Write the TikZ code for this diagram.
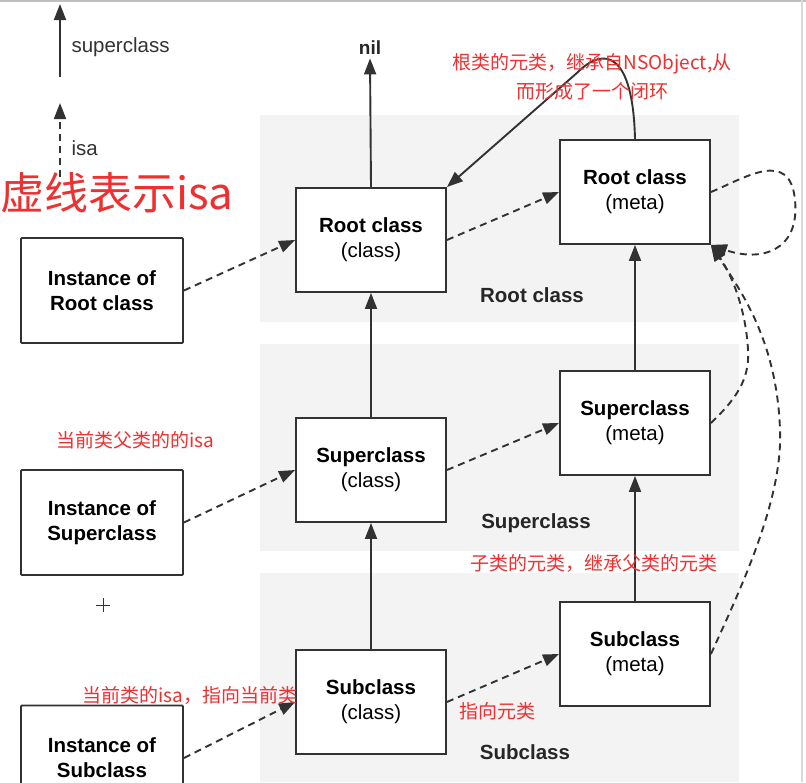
\documentclass[tikz,border=0pt]{standalone}
\usepackage{fontspec}
\setmainfont{Liberation Sans}
\newfontfamily\cjk{Noto Sans CJK SC}
\usetikzlibrary{arrows.meta}
\definecolor{boxline}{RGB}{50,50,50}
\definecolor{bandgray}{RGB}{243,243,243}
\definecolor{anno}{RGB}{238,48,48}
\begin{document}
\begin{tikzpicture}[x=1pt,y=-1pt,
  box/.style={draw=boxline, line width=1.9pt, fill=white, minimum width=150pt, minimum height=104pt, align=center, inner sep=0pt, font=\fontsize{20.5}{25}\selectfont},
  instbox/.style={box, minimum width=162pt, minimum height=105pt, rounded corners=1pt},
  supArrow/.style={-{Triangle[length=16pt,width=12pt]}, line width=1.9pt, draw=boxline},
  isaArrow/.style={supArrow, dash pattern=on 7pt off 5pt},
  bandlabel/.style={font=\bfseries\fontsize{20.5}{25}\selectfont, text=black!85},
  legendlabel/.style={font=\fontsize{20.5}{25}\selectfont, text=black!80, anchor=west},
  note/.style={text=anno, font=\cjk\fontsize{19}{29}\selectfont, align=center}]
\useasboundingbox (0,0) rectangle (806,782);
\clip (0,0) rectangle (806,782);
\fill[white] (0,0) rectangle (806,782);
% screenshot edges
\draw[black!25, line width=2pt] (0,1) -- (806,1);
\draw[black!15, line width=1.5pt] (802,0) -- (802,782);
% bands
\fill[bandgray] (260,115) rectangle (739,322);
\fill[bandgray] (260,344) rectangle (739,551);
\fill[bandgray] (260,573) rectangle (739,782);
\node[bandlabel] (lblRoot) at (532,295) {Root class};
\node[bandlabel] (lblSuper) at (536,523) {Superclass};
\node[bandlabel] (lblSub) at (525,752) {Subclass};
% legend
\coordinate (lsA) at (60,77);
\coordinate (lsB) at (60,4);
\coordinate (liA) at (60,177);
\coordinate (liB) at (60,103);
\draw[supArrow] (lsA) -- (lsB);
\draw[isaArrow] (liA) -- (liB);
\node[legendlabel] (lsT) at (68,47) {superclass};
\node[legendlabel] (liT) at (68,148) {isa};
% boxes
\node[box] (rc) at (371,240) {\textbf{Root class}\\(class)};
\node[box] (rm) at (635,192) {\textbf{Root class}\\(meta)};
\node[box] (sc) at (371,470) {\textbf{Superclass}\\(class)};
\node[box] (sm) at (635,423) {\textbf{Superclass}\\(meta)};
\node[box] (bc) at (371,702) {\textbf{Subclass}\\(class)};
\node[box] (bm) at (635,654) {\textbf{Subclass}\\(meta)};
\node[instbox] (ir) at (102,290.5) {\textbf{Instance of}\\\textbf{Root class}};
\node[instbox] (is) at (102,522.5) {\textbf{Instance of}\\\textbf{Superclass}};
\node[instbox] (ib) at (102,758) {\textbf{Instance of}\\\textbf{Subclass}};
\node[font=\bfseries\fontsize{19}{22}\selectfont, text=black!85] (nil) at (370,48) {nil};
% superclass arrows
\draw[supArrow] (rc.north) -- (nil.south);
\draw[supArrow] (sc.north) -- (rc.south);
\draw[supArrow] (bc.north) -- (sc.south);
\draw[supArrow] (sm.north) -- (rm.south);
\draw[supArrow] (bm.north) -- (sm.south);
\draw[supArrow] (rm.north) .. controls (633,52) and (604,46) .. (578,72) -- (rc.north east);
% isa arrows
\draw[isaArrow] (ir.east) -- (rc.west);
\draw[isaArrow] (rc.east) -- (rm.west);
\draw[isaArrow] (is.east) -- (sc.west);
\draw[isaArrow] (sc.east) -- (sm.west);
\draw[isaArrow] (ib.east) -- (bc.west);
\draw[isaArrow] (bc.east) -- (bm.west);
\draw[isaArrow] (rm.east) .. controls (745,178) and (790,148) .. (795,200) .. controls (800,252) and (760,262) .. (rm.south east);
\draw[isaArrow] (sm.east) .. controls (735,400) and (750,380) .. (748,350) .. controls (746,310) and (732,275) .. (rm.south east);
\draw[isaArrow] (bm.east) .. controls (740,590) and (783,500) .. (780,430) .. controls (777,340) and (740,290) .. (rm.south east);
% plus mark
\coordinate (pc) at (103,605);
\draw[line width=0.8pt, black!80] ([xshift=-7pt]pc) -- ([xshift=7pt]pc) ([yshift=-7pt]pc) -- ([yshift=7pt]pc);
% red annotations
\node[text=anno, font=\cjk\fontsize{44}{50}\selectfont, anchor=west, inner sep=0pt] (t0) at (0,193) {虚线表示isa};
\node[note] (n1) at (592,77) {根类的元类，继承自NSObject,从\\而形成了一个闭环};
\node[note] (n2) at (135,440) {当前类父类的的isa};
\node[note] (n3) at (594,563) {子类的元类，继承父类的元类};
\node[note] (n4) at (190,695) {当前类的isa，指向当前类};
\node[note] (n5) at (497,711) {指向元类};
\end{tikzpicture}
\end{document}
